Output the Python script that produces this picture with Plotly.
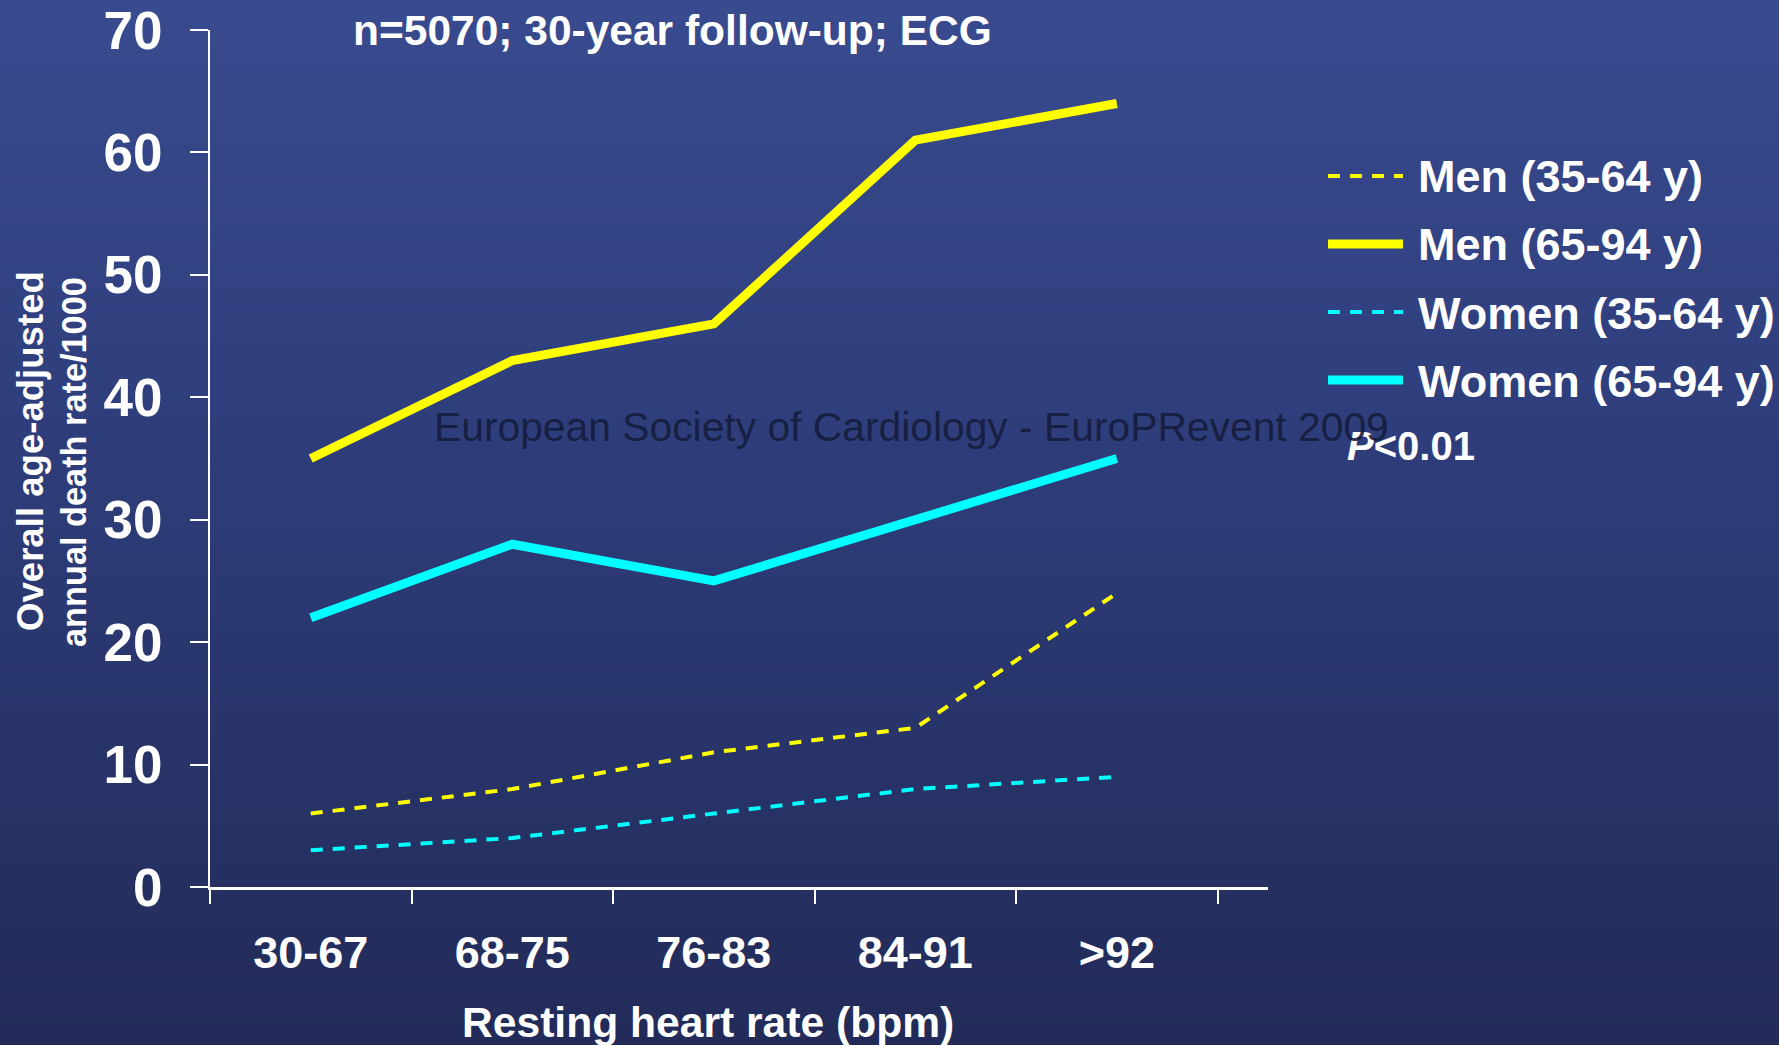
import plotly.graph_objects as go

# ---- data -------------------------------------------------------------
categories = ["30-67", "68-75", "76-83", "84-91", ">92"]
series_names = ["Men (35-64 y)", "Men (65-94 y)", "Women (35-64 y)", "Women (65-94 y)"]
men_35_64 = [6, 8, 11, 13, 24]
men_65_94 = [35, 43, 46, 61, 64]
women_35_64 = [3, 4, 6, 8, 9]
women_65_94 = [22, 28, 25, 30, 35]
y_ticks = [0, 10, 20, 30, 40, 50, 60, 70]

# ---- geometry helpers ---------------------------------------------------
W, H = 1779, 1045
L, R, T, B = 210, 511, 30, 158
PW, PH = W - L - R, H - T - B


def px_x(x):
    return (x - L) / PW


def px_y(y):
    return (H - B - y) / PH


FONT = "Liberation Sans, Arial, Helvetica, sans-serif"
WHITE = "#ffffff"
YELLOW = "#ffff00"
CYAN = "#00ffff"

series_values = [men_35_64, men_65_94, women_35_64, women_65_94]
series_colors = [YELLOW, YELLOW, CYAN, CYAN]
series_widths = [4, 9, 4, 9]
series_dash = ["12px,10px", "solid", "12px,10px", "solid"]

fig = go.Figure()
for name, vals, col, w, d in zip(series_names, series_values, series_colors,
                                 series_widths, series_dash):
    fig.add_trace(go.Scatter(
        x=categories, y=vals, name=name, mode="lines",
        line=dict(color=col, width=w, dash=d),
        showlegend=False, hoverinfo="x+y+name",
    ))

# ---- vertical gradient background ----------------------------------------
stops = [(0.0, (57, 75, 143)), (0.43, (46, 61, 122)), (1.0, (34, 43, 88))]


def grad(t):
    for (t0, c0), (t1, c1) in zip(stops[:-1], stops[1:]):
        if t0 <= t <= t1:
            f = (t - t0) / (t1 - t0)
            return "rgb(%d,%d,%d)" % tuple(round(a + (b - a) * f) for a, b in zip(c0, c1))
    return "rgb(%d,%d,%d)" % stops[-1][1]


shapes = []
n_bands = 160
band = H / n_bands
for i in range(n_bands):
    y0 = i * band
    y1 = (i + 1) * band + 0.6
    shapes.append(dict(
        type="rect", xref="paper", yref="paper", layer="below",
        x0=px_x(0), x1=px_x(W), y0=px_y(y1), y1=px_y(y0),
        fillcolor=grad((i + 0.5) / n_bands), line=dict(width=0),
    ))

# ---- legend (drawn by hand for long line samples) -------------------------
annotations = []
leg_x0, leg_x1, leg_text_x = 1328, 1403, 1416
leg_y0, leg_dy = 176, 68
for i, (name, col, w, d) in enumerate(zip(series_names, series_colors,
                                          series_widths, series_dash)):
    yy = leg_y0 + i * leg_dy
    shapes.append(dict(
        type="line", xref="paper", yref="paper",
        x0=px_x(leg_x0), x1=px_x(leg_x1), y0=px_y(yy), y1=px_y(yy),
        line=dict(color=col, width=w,
                  dash=("solid" if d == "solid" else "12px,10px")),
    ))
    annotations.append(dict(
        xref="paper", yref="paper", x=px_x(leg_text_x), y=px_y(yy + 1),
        xanchor="left", yanchor="middle", showarrow=False, text=name,
        font=dict(family=FONT, size=45, color=WHITE, weight="bold"),
    ))

# ---- text ---------------------------------------------------------------
annotations += [
    dict(xref="paper", yref="paper", x=px_x(351), y=px_y(30),
         xanchor="left", yanchor="middle", showarrow=False,
         text="n=5070; 30-year follow-up; ECG",
         font=dict(family=FONT, size=42.5, color=WHITE, weight="bold")),
    dict(xref="paper", yref="paper", x=px_x(31), y=px_y(451),
         xanchor="center", yanchor="middle", showarrow=False, textangle=-90,
         text="Overall age-adjusted",
         font=dict(family=FONT, size=36.6, color=WHITE, weight="bold")),
    dict(xref="paper", yref="paper", x=px_x(74), y=px_y(462),
         xanchor="center", yanchor="middle", showarrow=False, textangle=-90,
         text="annual death rate/1000",
         font=dict(family=FONT, size=34.3, color=WHITE, weight="bold")),
    dict(xref="paper", yref="paper", x=px_x(708), y=px_y(1022),
         xanchor="center", yanchor="middle", showarrow=False,
         text="Resting heart rate (bpm)",
         font=dict(family=FONT, size=42.6, color=WHITE, weight="bold")),
    dict(xref="paper", yref="paper", x=px_x(1345), y=px_y(446),
         xanchor="left", yanchor="middle", showarrow=False,
         text="<i>P</i>&lt;0.01",
         font=dict(family=FONT, size=40, color=WHITE, weight="bold")),
    dict(xref="paper", yref="paper", x=px_x(432), y=px_y(427),
         xanchor="left", yanchor="middle", showarrow=False,
         text="European Society of Cardiology - EuroPRevent 2009",
         font=dict(family=FONT, size=40.8, color="rgba(20,27,58,0.9)")),
]

fig.update_layout(
    width=W, height=H,
    margin=dict(l=L, r=R, t=T, b=B, pad=0, autoexpand=False),
    paper_bgcolor="rgb(46,61,122)",
    plot_bgcolor="rgba(0,0,0,0)",
    shapes=shapes,
    annotations=annotations,
    showlegend=False,
    xaxis=dict(
        type="category", categoryorder="array", categoryarray=categories,
        range=[-0.5, 4.75], tickson="boundaries", automargin=False,
        ticks="outside", ticklen=14, tickwidth=2, tickcolor=WHITE,
        showline=True, linecolor=WHITE, linewidth=3,
        showgrid=False, zeroline=False,
        tickfont=dict(family=FONT, size=45, color=WHITE, weight="bold"),
        ticklabelstandoff=24,
    ),
    yaxis=dict(
        range=[0, 70], tickvals=y_ticks, ticktext=[str(v) for v in y_ticks],
        automargin=False,
        ticks="outside", ticklen=18, tickwidth=2, tickcolor=WHITE,
        showline=True, linecolor=WHITE, linewidth=2,
        showgrid=False, zeroline=False,
        tickfont=dict(family=FONT, size=53, color=WHITE, weight="bold"),
        ticklabelstandoff=17,
    ),
)

fig.write_html("out.html")
